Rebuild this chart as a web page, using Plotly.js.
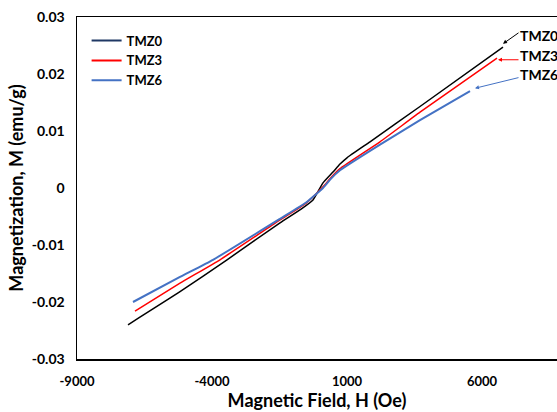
<!DOCTYPE html>
<html>
<head>
<meta charset="utf-8">
<script src="https://cdn.plot.ly/plotly-3.0.1.min.js"></script>
<style>html,body{margin:0;padding:0;background:#fff;}#chart{width:557px;height:412px;}</style>
</head>
<body>
<div id="chart"></div>
<script>
// Magnetic field H (Oe) and magnetization M (emu/g)
const tmz0H = [-7111, -5185, -3444, -1481, -700, -259, 111, 481, 741, 1000, 1852, 3704, 6778];
const tmz0M = [-0.0240, -0.0182, -0.0126, -0.0061, -0.0037, -0.0021, 0.0009, 0.0028, 0.0042, 0.0053, 0.0081, 0.0143, 0.0247];
const tmz3H = [-6852, -5185, -3704, -1481, -500, 111, 400, 741, 2222, 3704, 6556];
const tmz3M = [-0.0216, -0.0167, -0.0126, -0.0056, -0.0026, 0.0002, 0.0018, 0.0034, 0.0081, 0.0133, 0.0228];
const tmz6H = [-6926, -5185, -3963, -1481, -500, 111, 400, 741, 2222, 3704, 5556];
const tmz6M = [-0.0200, -0.0156, -0.0126, -0.0054, -0.0025, 0.0000, 0.0016, 0.0031, 0.0076, 0.0119, 0.0170];
const seriesNames = ['TMZ0', 'TMZ3', 'TMZ6'];
const lineColors = ['#000000', '#FF0000', '#4472C4'];
const legendColors = ['#1F3864', '#FF0000', '#4472C4'];
const yTickVals = [-0.03, -0.02, -0.01, 0, 0.01, 0.02, 0.03];
const yTickText = ['-0.03', '-0.02', '-0.01', '0', '0.01', '0.02', '0.03'];
const xTickVals = [-9000, -4000, 1000, 6000];
const xTickText = ['-9000', '-4000', '1000', '6000'];
// label arrows: [arrow head H, arrow head M], label position
const arrowHeads = [[6778, 0.0253], [6593, 0.0225], [5741, 0.0175]];
const arrowTails = [[17, -12], [22, 0], [45, -11]];
const labelPos = [[7333, 0.0268], [7333, 0.0233], [7333, 0.0200]];

const font = 'Lato, "Open Sans", sans-serif';
const Hs = [tmz0H, tmz3H, tmz6H];
const Ms = [tmz0M, tmz3M, tmz6M];
const widths = [1.5, 1.5, 2];

const traces = [];
for (let i = 0; i < 3; i++) {
  traces.push({x: Hs[i], y: Ms[i], mode: 'lines', name: seriesNames[i], showlegend: false,
    line: {color: lineColors[i], width: widths[i], shape: 'spline', smoothing: 0.4}});
}
for (let i = 0; i < 3; i++) {
  traces.push({x: [null], y: [null], mode: 'lines', name: seriesNames[i], showlegend: true,
    line: {color: legendColors[i], width: 2}});
}

const annotations = [];
for (let i = 0; i < 3; i++) {
  annotations.push({x: arrowHeads[i][0], y: arrowHeads[i][1], xref: 'x', yref: 'y', text: '',
    showarrow: true, arrowhead: 2, arrowsize: 0.8, arrowwidth: 1, arrowcolor: lineColors[i],
    ax: arrowTails[i][0], ay: arrowTails[i][1], standoff: 0});
  annotations.push({x: labelPos[i][0], y: labelPos[i][1], xref: 'x', yref: 'y', text: '<b>' + seriesNames[i] + '</b>',
    showarrow: false, xanchor: 'left', yanchor: 'middle', font: {family: font, size: 14, color: '#000'}});
}

const layout = {
  width: 557, height: 412,
  margin: {l: 77, r: 0, t: 17, b: 53, pad: 0},
  paper_bgcolor: '#fff', plot_bgcolor: '#fff',
  font: {family: font, color: '#000'},
  xaxis: {range: [-9000, 8778], tickvals: xTickVals, ticktext: xTickText, showgrid: false, zeroline: false,
    showline: true, linecolor: '#000', linewidth: 1.5, mirror: true, ticks: '', ticklabelstandoff: 10,
    tickfont: {family: font, size: 13, color: '#000', weight: 'bold'},
    title: {text: '<b>Magnetic Field, H (Oe)</b>', font: {family: font, size: 18, color: '#000'}, standoff: 4}},
  yaxis: {range: [-0.03, 0.03], tickvals: yTickVals, ticktext: yTickText, showgrid: false, zeroline: false,
    showline: true, linecolor: '#000', linewidth: 1.5, ticks: '', ticklabelstandoff: 8,
    tickfont: {family: font, size: 14, color: '#000', weight: 'bold'},
    title: {text: '<b>Magnetization, M (emu/g)</b>', font: {family: font, size: 18, color: '#000'}, standoff: 3}},
  legend: {x: 0.02, y: 0.975, xanchor: 'left', yanchor: 'top', bgcolor: 'rgba(0,0,0,0)',
    font: {family: font, size: 13, color: '#000', weight: 'bold'}, tracegroupgap: 0, itemwidth: 30},
  annotations: annotations,
  showlegend: true
};
Plotly.newPlot('chart', traces, layout, {displayModeBar: false, staticPlot: true});
</script>
</body>
</html>
